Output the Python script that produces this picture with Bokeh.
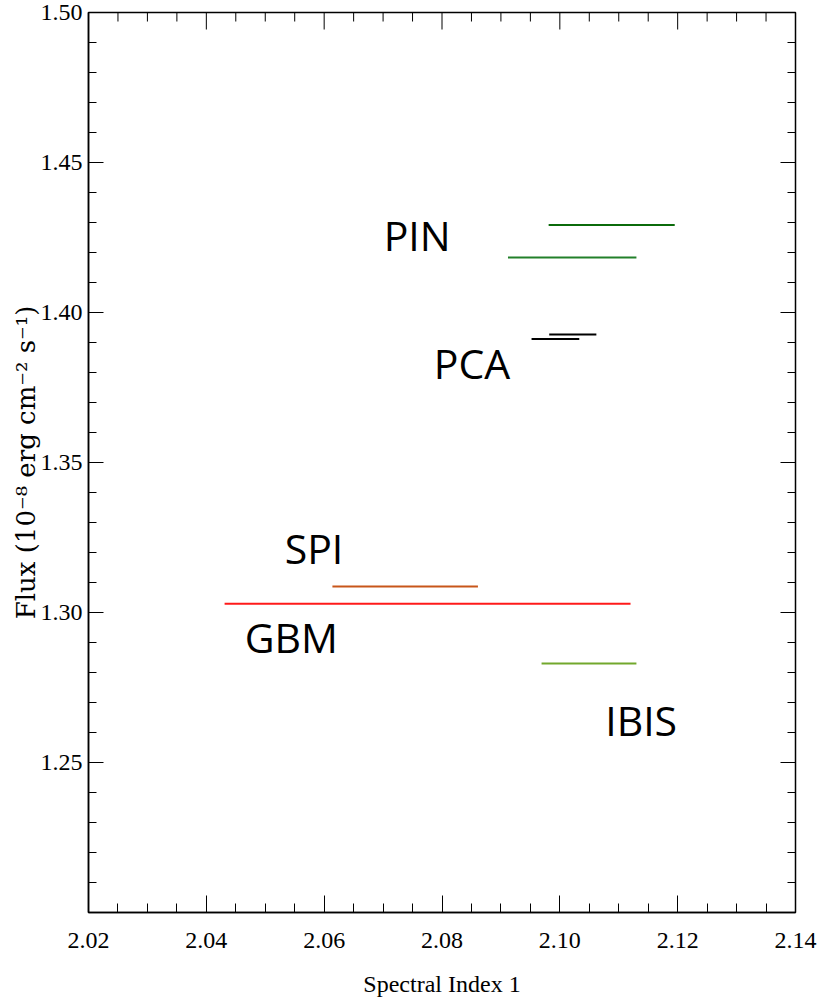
import numpy as np
from bokeh.plotting import figure
from bokeh.models import (ColumnDataSource, Range1d, FixedTicker, LinearAxis,
                          PrintfTickFormatter)
from bokeh.core.properties import value
from bokeh.embed import file_html
from bokeh.resources import INLINE

# ---- data ----
instruments = ["PIN", "PIN", "PCA", "PCA", "SPI", "GBM", "IBIS"]
index_lo = [2.0981, 2.0912, 2.0982, 2.0952, 2.0614, 2.0431, 2.0969]
index_hi = [2.1195, 2.1130, 2.1062, 2.1033, 2.0861, 2.1120, 2.1130]
flux = [1.4292, 1.4183, 1.3927, 1.3912, 1.3087, 1.3029, 1.2830]
seg_colors = ["#0b6b0b", "#22802a", "#000000", "#000000", "#c8561a", "#ff1a1a", "#72a82c"]

label_text = ["PIN", "PCA", "SPI", "GBM", "IBIS"]
label_x = [2.0701, 2.0786, 2.0533, 2.0465, 2.1077]
label_y = [1.4258, 1.3831, 1.3215, 1.2918, 1.2641]

x_major = [2.02, 2.04, 2.06, 2.08, 2.10, 2.12, 2.14]
x_minor = [round(2.02 + 0.005 * i, 3) for i in range(25)]
y_major = [1.20, 1.25, 1.30, 1.35, 1.40, 1.45, 1.50]
y_minor = [round(1.20 + 0.01 * i, 2) for i in range(31)]

p = figure(width=818, height=1004, output_backend="svg", toolbar_location=None,
           x_range=Range1d(2.02, 2.14), y_range=Range1d(1.20, 1.50),
           min_border_left=88, min_border_right=23, min_border_top=12,
           min_border_bottom=92, x_axis_type=None, y_axis_type=None)
p.grid.visible = False
p.outline_line_color = "black"
p.outline_line_width = 1.5
p.background_fill_color = "white"
p.border_fill_color = "white"

src = ColumnDataSource(dict(x0=index_lo, x1=index_hi, y=flux, c=seg_colors, name=instruments))
p.segment(x0="x0", y0="y", x1="x1", y1="y", color="c", line_width=2, source=src)

lsrc = ColumnDataSource(dict(x=label_x, y=label_y, t=label_text))
p.text(x="x", y="y", text="t", source=lsrc, text_font=value("Open Sans"),
       text_font_size="41px", text_color="black", text_align="left",
       text_baseline="alphabetic")

def style(ax, major_len, minor_len):
    ax.axis_line_color = "black"
    ax.axis_line_width = 1.5
    ax.major_tick_line_color = "black"
    ax.minor_tick_line_color = "black"
    ax.major_tick_in = major_len
    ax.major_tick_out = 0
    ax.minor_tick_in = minor_len
    ax.minor_tick_out = 0
    ax.major_label_text_color = "black"
    ax.axis_label_text_color = "black"

xb = LinearAxis(ticker=FixedTicker(ticks=x_major, minor_ticks=x_minor),
                formatter=PrintfTickFormatter(format="%.2f"),
                axis_label="Spectral Index 1")
style(xb, 17, 9)
xb.major_label_text_font = "Liberation Serif"
xb.major_label_text_font_size = "24px"
xb.major_label_standoff = 20
xb.axis_label_text_font = "Liberation Serif"
xb.axis_label_text_font_style = "normal"
xb.axis_label_text_font_size = "24px"
xb.axis_label_standoff = 20
p.add_layout(xb, "below")

yl = LinearAxis(ticker=FixedTicker(ticks=[1.25, 1.30, 1.35, 1.40, 1.45, 1.50], minor_ticks=y_minor),
                formatter=PrintfTickFormatter(format="%.2f"),
                axis_label="Flux (10\u207b\u2078 erg cm\u207b\u00b2 s\u207b\u00b9)")
style(yl, 15, 8)
yl.major_label_text_font = "Liberation Serif"
yl.major_label_text_font_size = "24px"
yl.major_label_standoff = 6
yl.axis_label_text_font = "DejaVu Serif"
yl.axis_label_text_font_style = "normal"
yl.axis_label_text_font_size = "26px"
yl.axis_label_standoff = -3
p.add_layout(yl, "left")

# mirrored tick marks on top and right edges (inward)
xmin_only = [t for t in x_minor if all(abs(t - m) > 1e-9 for m in x_major)]
ymin_only = [t for t in y_minor if all(abs(t - m) > 1e-9 for m in y_major)]
top = 1.50
right = 2.14
p.ray(x=x_major, y=[top] * len(x_major), length=17, length_units="screen",
      angle=-np.pi / 2, line_color="black", line_width=1)
p.ray(x=xmin_only, y=[top] * len(xmin_only), length=9, length_units="screen",
      angle=-np.pi / 2, line_color="black", line_width=1)
p.ray(x=[right] * len(y_major), y=y_major, length=15, length_units="screen",
      angle=np.pi, line_color="black", line_width=1)
p.ray(x=[right] * len(ymin_only), y=ymin_only, length=8, length_units="screen",
      angle=np.pi, line_color="black", line_width=1)

open("out.html", "w").write(file_html(p, INLINE))
